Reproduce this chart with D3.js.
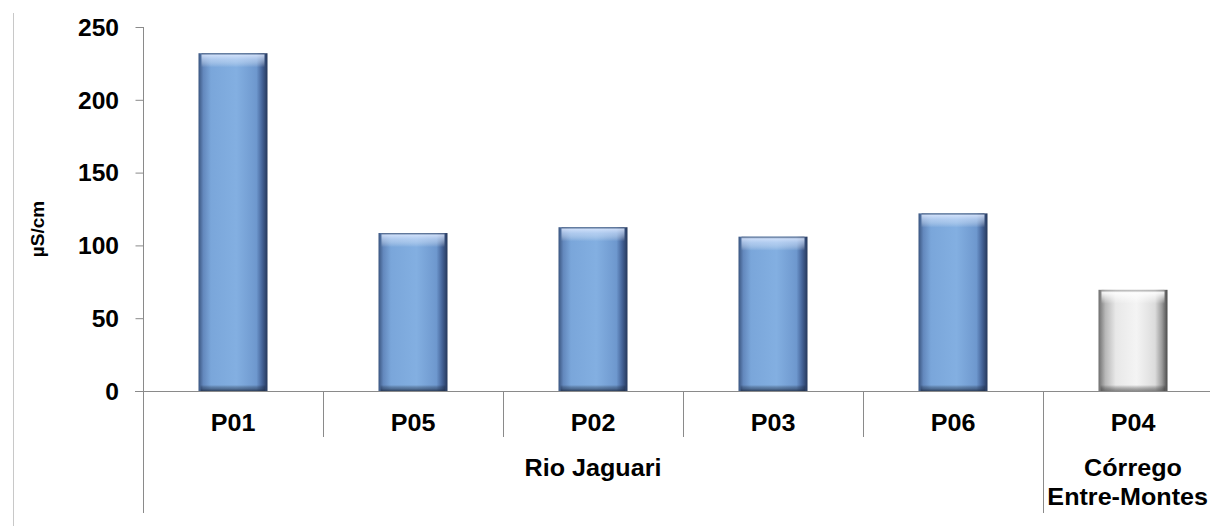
<!DOCTYPE html>
<html><head><meta charset="utf-8">
<script src="https://cdn.jsdelivr.net/npm/d3@7/dist/d3.min.js"></script>
<style>
html,body{margin:0;padding:0;background:#fff;overflow:hidden}
text{font-family:"Liberation Sans",Arial,sans-serif;font-weight:bold;fill:#000}
</style></head>
<body>
<svg id="c" width="1210" height="526"></svg>
<script>
const categories = ["P01","P05","P02","P03","P06","P04"];
const values = [232, 108.5, 112.5, 106, 122, 69.5];
const groupOf = ["Rio Jaguari","Rio Jaguari","Rio Jaguari","Rio Jaguari","Rio Jaguari","Córrego Entre-Montes"];
const groupLines = {"Rio Jaguari":["Rio Jaguari"],"Córrego Entre-Montes":["Córrego","Entre-Montes"]};
const yTicks = [0,50,100,150,200,250];
const yLabel = "µS/cm";

const SX = 1.07; // horizontal stretch of text as in the reference
const W = 1210;
const svg = d3.select("#c");
const x = d3.scaleBand().domain(categories).range([143,1223]);
const y = d3.scaleLinear().domain([0,250]).range([391,27]);

const defs = svg.append("defs");
function hgrad(id, stops){
  const g = defs.append("linearGradient").attr("id",id).attr("x1","0").attr("x2","1").attr("y1","0").attr("y2","0");
  stops.forEach(s=>g.append("stop").attr("offset",s[0]).attr("stop-color",s[1]));
}
function vgrad(id, stops){
  const g = defs.append("linearGradient").attr("id",id).attr("x1","0").attr("x2","0").attr("y1","0").attr("y2","1");
  stops.forEach(s=>g.append("stop").attr("offset",s[0]).attr("stop-color",s[1][0]).attr("stop-opacity",s[1][1]));
}
hgrad("blueH",[[0,"#3a5580"],[0.07,"#6388bd"],[0.18,"#7aa6da"],[0.55,"#83afe1"],[0.84,"#6e98ce"],[0.92,"#46659a"],[1,"#25375a"]]);
hgrad("grayH",[[0,"#6e6e6e"],[0.1,"#b8b8b8"],[0.25,"#e8e8e8"],[0.55,"#f4f4f4"],[0.82,"#dcdcdc"],[0.92,"#9a9a9a"],[1,"#4a4a4a"]]);
vgrad("topHi",[[0,["#2f4466",0.8]],[0.15,["#dfeaff",0.8]],[0.45,["#cfe0fa",0.6]],[1,["#ffffff",0]]]);
vgrad("topHiG",[[0,["#888888",0.6]],[0.2,["#ffffff",0.9]],[1,["#ffffff",0]]]);
vgrad("botSh",[[0,["#000000",0]],[0.6,["#1e2c44",0.45]],[1,["#1e2c44",0.8]]]);
vgrad("botShG",[[0,["#000000",0]],[1,["#444444",0.6]]]);

function label(px, py, t, size){
  const el = svg.append("text").attr("text-anchor","middle").attr("dy","0.36em")
    .style("font-size",size+"px").text(t);
  const w = el.node().getComputedTextLength() * SX;
  const cx = Math.min(px, W - 2 - w/2);
  el.attr("transform",`translate(${cx},${py}) scale(${SX},1)`);
  return el;
}

// left frame line
svg.append("line").attr("x1",13.5).attr("x2",13.5).attr("y1",13).attr("y2",526).attr("stroke","#c8c8c8").attr("stroke-width",1);

const bw = 69;
const bars = svg.append("g");
categories.forEach((c,i)=>{
  const isGray = groupOf[i] !== "Rio Jaguari";
  const bx = x(c) + (x.bandwidth()-bw)/2;
  const by = y(values[i]);
  const bh = y(0) - by;
  bars.append("rect").attr("x",bx).attr("y",by).attr("width",bw).attr("height",bh)
    .attr("fill", isGray ? "url(#grayH)" : "url(#blueH)");
  bars.append("rect").attr("x",bx+3).attr("y",by).attr("width",bw-6).attr("height",Math.min(14,bh))
    .attr("fill", isGray ? "url(#topHiG)" : "url(#topHi)");
  bars.append("rect").attr("x",bx+2).attr("y",y(0)-6).attr("width",bw-4).attr("height",6)
    .attr("fill", isGray ? "url(#botShG)" : "url(#botSh)");
});

// y axis
const yAxis = d3.axisLeft(y).tickValues(yTicks).tickSize(8).tickPadding(14).tickFormat(d3.format("d"));
const ga = svg.append("g").attr("transform","translate(143.5,0)").call(yAxis);
ga.select(".domain").remove();
ga.selectAll(".tick line").attr("stroke","#8a8a8a");
ga.selectAll(".tick text").style("font-size","23px").attr("dy","0.36em")
  .attr("x", -24.5/SX).attr("transform",`scale(${SX},1)`);
svg.append("line").attr("x1",143.5).attr("x2",143.5).attr("y1",27).attr("y2",513).attr("stroke","#8a8a8a");

// x axis line
svg.append("line").attr("x1",135).attr("x2",W).attr("y1",y(0)+0.5).attr("y2",y(0)+0.5).attr("stroke","#8a8a8a");

// category dividers and labels
categories.forEach((c,i)=>{
  if(i>0){
    const sameGroup = groupOf[i]===groupOf[i-1];
    svg.append("line").attr("x1",x(c)+0.5).attr("x2",x(c)+0.5).attr("y1",y(0)).attr("y2",sameGroup?437:513).attr("stroke","#8a8a8a");
  }
  label(x(c)+x.bandwidth()/2, 423, c, 23.5);
});

// group labels
const groups = Array.from(new Set(groupOf));
groups.forEach(g=>{
  const members = categories.filter((c,i)=>groupOf[i]===g);
  const x0 = x(members[0]), x1 = x(members[members.length-1]) + x.bandwidth();
  groupLines[g].forEach((t,j)=>label((x0+x1)/2, 468 + j*29, t, 23.5));
});

// y label
svg.append("text").attr("transform","translate(37,229) rotate(-90)").attr("text-anchor","middle")
  .attr("dy","0.36em").style("font-size","19px").text(yLabel);
</script>
</body></html>
